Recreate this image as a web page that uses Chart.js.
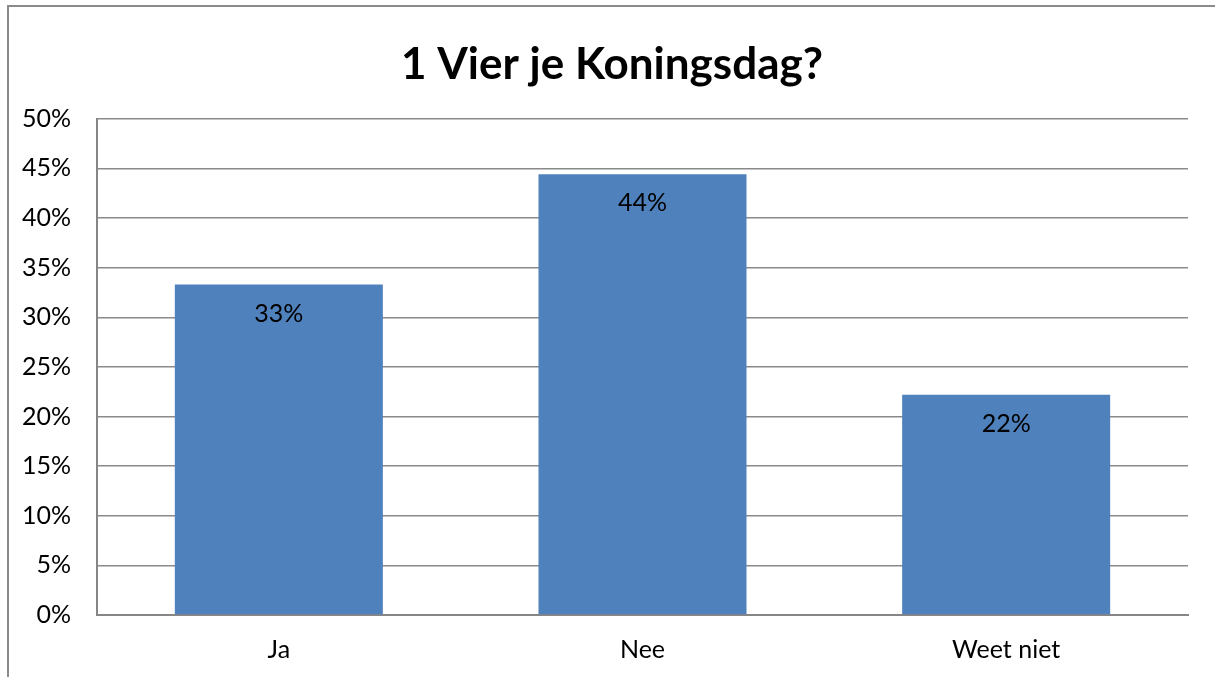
<!DOCTYPE html>
<html>
<head>
<meta charset="utf-8">
<script src="https://cdn.jsdelivr.net/npm/chart.js@4/dist/chart.umd.min.js"></script>
<style>
  html, body { margin: 0; padding: 0; background: #fff; }
  #wrap { width: 1215px; height: 677px; position: relative; }
</style>
</head>
<body>
<div id="wrap"><canvas id="koningsdagChart"></canvas></div>
<script>
// chart data
const categories = ['Ja', 'Nee', 'Weet niet'];
const percentages = [33.3, 44.4, 22.2];
const yTicks = [0, 5, 10, 15, 20, 25, 30, 35, 40, 45, 50];
const chartTitle = '1 Vier je Koningsdag?';

const FONT = "Lato, 'Open Sans', 'Liberation Sans', sans-serif";

// outer chart border (cut off on the right and bottom like the source image)
const frame = {
	id: 'frame',
	beforeDraw(chart){
		const ctx = chart.ctx;
		ctx.save();
		ctx.strokeStyle = '#8a8a8a';
		ctx.lineWidth = 2;
		ctx.beginPath();
		ctx.moveTo(8, chart.height + 5);
		ctx.lineTo(8, 6);
		ctx.lineTo(chart.width + 5, 6);
		ctx.stroke();
		ctx.restore();
	}
};

// value labels inside the top of each bar
const barLabels = {
	id: 'barLabels',
	afterDatasetsDraw(chart){
		const ctx = chart.ctx;
		const meta = chart.getDatasetMeta(0);
		ctx.save();
		ctx.font = '25px ' + FONT;
		ctx.fillStyle = '#000';
		ctx.textAlign = 'center';
		ctx.textBaseline = 'middle';
		meta.data.forEach((bar, i) => {
			ctx.fillText(Math.round(percentages[i]) + '%', bar.x, bar.y + 29);
		});
		ctx.restore();
	}
};

new Chart(document.getElementById('koningsdagChart'), {
	type: 'bar',
	data: {
		labels: categories,
		datasets: [{
			data: percentages,
			backgroundColor: '#4F81BD',
			borderWidth: 0,
			categoryPercentage: 1,
			barPercentage: 0.572
		}]
	},
	options: {
		responsive: true,
		maintainAspectRatio: false,
		animation: false,
		layout: { padding: { left: 9, right: 0, top: 0, bottom: 0 } },
		plugins: {
			legend: { display: false },
			tooltip: { enabled: false },
			title: {
				display: true,
				text: chartTitle,
				color: '#000',
				font: { family: FONT, size: 44, weight: 'bold' },
				padding: { top: 38, bottom: 28 }
			}
		},
		scales: {
			x: {
				grid: { display: false, drawTicks: false },
				border: { color: '#868686', width: 2 },
				ticks: { color: '#000', font: { family: FONT, size: 25 }, padding: 20 },
				afterFit(scale){ scale.height = 62; }
			},
			y: {
				min: 0,
				max: 50,
				afterBuildTicks(scale){ scale.ticks = yTicks.map(v => ({ value: v })); },
				grid: { color: '#8a8a8a', lineWidth: 1.5, drawTicks: false },
				border: { color: '#868686', width: 2 },
				ticks: {
					color: '#000',
					font: { family: FONT, size: 25 },
					padding: 26,
					callback: v => v + '%'
				},
				afterFit(scale){ scale.width = 88; }
			},
			// empty right-hand axis, only there to keep the gap right of the plot
			yRight: {
				position: 'right',
				grid: { display: false, drawTicks: false },
				border: { display: false },
				ticks: { display: false },
				afterFit(scale){ scale.width = 27; }
			}
		}
	},
	plugins: [frame, barLabels]
});
</script>
</body>
</html>
